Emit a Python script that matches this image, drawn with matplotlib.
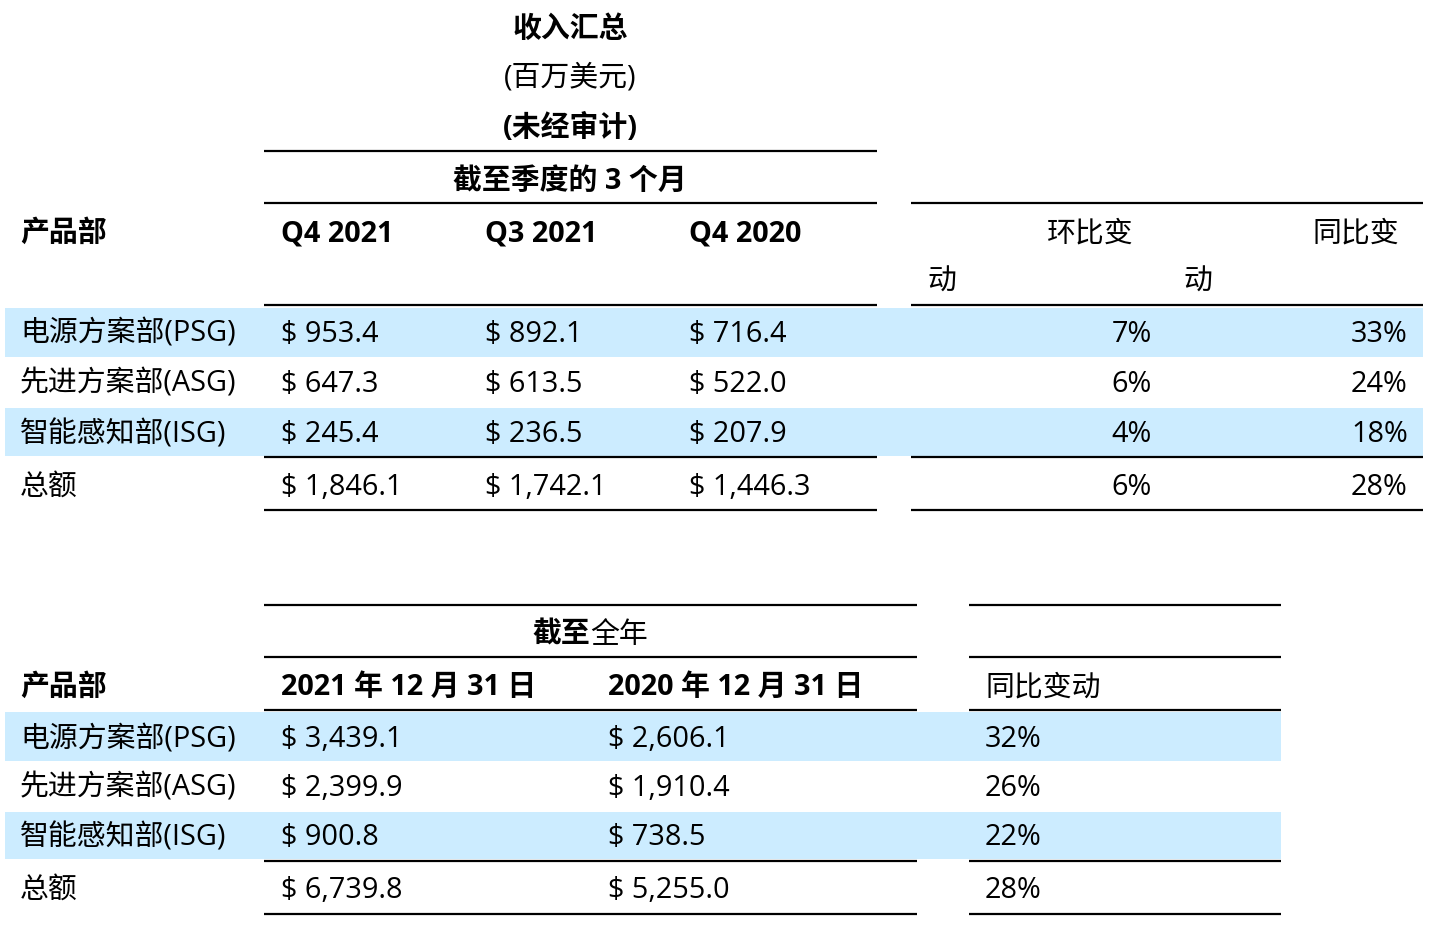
import matplotlib
matplotlib.use("Agg")
import matplotlib.pyplot as plt
from matplotlib.patches import Rectangle

plt.rcParams['font.family'] = ['Open Sans', 'Noto Sans CJK SC', 'DejaVu Sans']

# ---- data ----
segments = ['电源方案部(PSG)', '先进方案部(ASG)', '智能感知部(ISG)', '总额']
quarters = ['Q4 2021', 'Q3 2021', 'Q4 2020']
q4_2021 = [953.4, 647.3, 245.4, 1846.1]
q3_2021 = [892.1, 613.5, 236.5, 1742.1]
q4_2020 = [716.4, 522.0, 207.9, 1446.3]
qoq_pct = [7, 6, 4, 6]
yoy_pct = [33, 24, 18, 28]
years = ['2021 年 12 月 31 日', '2020 年 12 月 31 日']
fy2021 = [3439.1, 2399.9, 900.8, 6739.8]
fy2020 = [2606.1, 1910.4, 738.5, 5255.0]
fy_yoy_pct = [32, 26, 22, 28]

W, H = 1447, 932
fig = plt.figure(figsize=(W / 100, H / 100), dpi=100)
ax = fig.add_axes([0, 0, 1, 1])
ax.set_xlim(0, W)
ax.set_ylim(H, 0)
ax.axis('off')

FS = 20.8
SHADE = '#CCECFF'
LW = 1.6
DY = 1.5


def txt(x, y, s, bold=False, ha='left', **kw):
    return ax.text(x, y + DY, s, fontsize=FS, fontweight='bold' if bold else 'normal',
                   ha=ha, va='center', color='black', **kw)


def hline(y, x0, x1):
    ax.plot([x0, x1], [y, y], color='black', lw=LW, solid_capstyle='butt')


def shade(y0, y1, x0, x1):
    ax.add_patch(Rectangle((x0, y0), x1 - x0, y1 - y0, facecolor=SHADE, edgecolor='none', zorder=0))


def money(v):
    return '$ {:,.1f}'.format(v)

# ---------------- top table ----------------
txt(570, 28, '收入汇总', bold=True, ha='center')
txt(570, 77, '(百万美元)', ha='center')
txt(570, 127, '(未经审计)', bold=True, ha='center')
hline(151, 264, 877)
txt(570, 180, '截至季度的 3 个月', bold=True, ha='center')
hline(203, 264, 877)
hline(203, 911, 1423)

txt(20, 232, '产品部', bold=True)
qx = [281, 485, 689]
for x, q in zip(qx, quarters):
    txt(x, 232, q, bold=True)
txt(1047, 232, '环比变')
txt(1312, 232, '同比变')
txt(927, 281, '动')
txt(1183, 281, '动')
hline(305, 264, 877)
hline(305, 911, 1423)

row_y = [333, 383, 433, 486]
shade(308, 357, 5, 1423)
shade(408, 456, 5, 1423)
for i, seg in enumerate(segments):
    y = row_y[i]
    txt(20, y, seg)
    for x, col in zip(qx, [q4_2021, q3_2021, q4_2020]):
        txt(x, y, money(col[i]))
    txt(1152, y, f'{qoq_pct[i]}%', ha='right')
    txt(1408, y, f'{yoy_pct[i]}%', ha='right')
hline(457, 264, 877)
hline(457, 911, 1423)
hline(510, 264, 877)
hline(510, 911, 1423)

# ---------------- bottom table ----------------
hline(605, 264, 917)
hline(605, 969, 1281)
# mixed bold / normal title
fig.canvas.draw()
r = fig.canvas.get_renderer()
t1 = txt(0, 634, '截至', bold=True)
t2 = txt(0, 634, '全年')
w1 = t1.get_window_extent(r).width
w2 = t2.get_window_extent(r).width
start = 590 - (w1 + w2) / 2
t1.set_x(start)
t2.set_x(start + w1)
hline(657, 264, 917)
hline(657, 969, 1281)

txt(20, 686, '产品部', bold=True)
yx = [281, 608]
for x, yl in zip(yx, years):
    txt(x, 686, yl, bold=True)
txt(985, 686, '同比变动')
hline(710, 264, 917)
hline(710, 969, 1281)

row_y2 = [738, 787, 836, 889]
shade(712, 761, 5, 1281)
shade(812, 859, 5, 1281)
for i, seg in enumerate(segments):
    y = row_y2[i]
    txt(20, y, seg)
    for x, col in zip(yx, [fy2021, fy2020]):
        txt(x, y, money(col[i]))
    txt(985, y, f'{fy_yoy_pct[i]}%')
hline(861, 264, 917)
hline(861, 969, 1281)
hline(914, 264, 917)
hline(914, 969, 1281)

fig.savefig('out.png', dpi=100, facecolor='white')
